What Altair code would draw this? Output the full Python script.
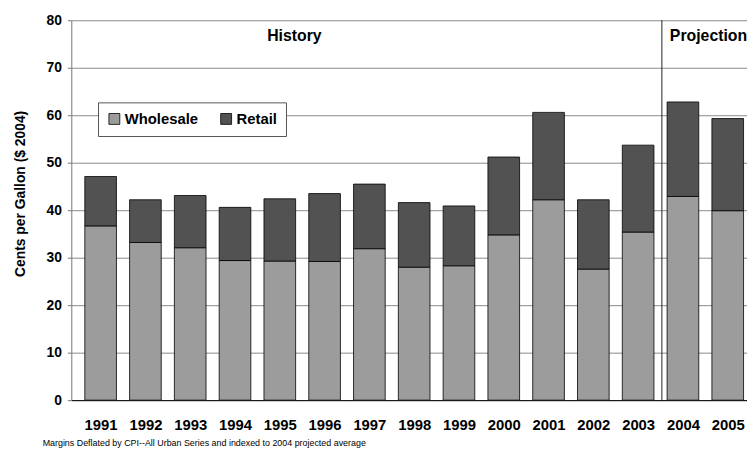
import altair as alt
import pandas as pd

# ---- data ----
years = [1991, 1992, 1993, 1994, 1995, 1996, 1997, 1998, 1999, 2000, 2001, 2002, 2003, 2004, 2005]
wholesale = [36.7, 33.2, 32.1, 29.4, 29.3, 29.2, 31.9, 28.0, 28.3, 34.8, 42.2, 27.6, 35.4, 42.9, 39.9]
retail = [10.4, 9.0, 11.0, 11.2, 13.1, 14.3, 13.6, 13.6, 12.6, 16.4, 18.4, 14.6, 18.3, 19.9, 19.4]
series = ["Wholesale", "Retail"]
colors = ["#9c9c9c", "#525252"]
y_ticks = [0, 10, 20, 30, 40, 50, 60, 70, 80]
history_projection_boundary = [2003.53]
y_title = "Cents per Gallon ($ 2004)"
footnote = "Margins Deflated by CPI--All Urban Series and indexed to 2004 projected average"

rows = []
for i, yr in enumerate(years):
    rows.append({"year": yr, "series": "Wholesale", "cents": wholesale[i], "ord": 0})
    rows.append({"year": yr, "series": "Retail", "cents": retail[i], "ord": 1})
df = pd.DataFrame(rows)

FONT = "Liberation Sans"

bars = alt.Chart(df).mark_bar(size=32, stroke="black", strokeWidth=0.8, clip=True).encode(
    x=alt.X(
        "year:Q",
        scale=alt.Scale(domain=[1990.456, 2005.32], nice=False, zero=False),
        axis=alt.Axis(
            values=years, format="d", title=None, grid=False, ticks=False,
            labelFont=FONT, labelFontSize=15, labelFontWeight="bold", labelColor="black",
            labelPadding=18, labelFlush=False, labelOverlap=False,
            domainColor="black", domainWidth=1,
        ),
    ),
    y=alt.Y(
        "cents:Q", stack="zero",
        scale=alt.Scale(domain=[0, 80], nice=False),
        axis=alt.Axis(
            values=y_ticks, title=y_title, grid=True, gridColor="#8a8a8a", gridWidth=1,
            ticks=True, tickSize=4, tickColor="#777777",
            domainColor="#777777",
            labelFont=FONT, labelFontSize=14, labelFontWeight="bold", labelColor="black",
            labelPadding=6,
            titleFont=FONT, titleFontSize=14, titleFontWeight="bold", titleColor="black",
            titlePadding=19, titleY=175,
        ),
    ),
    color=alt.Color(
        "series:N",
        scale=alt.Scale(domain=series, range=colors),
        legend=alt.Legend(
            title=None, orient="none", legendX=27, legendY=83, direction="horizontal",
            columns=2, symbolType="square", symbolSize=121, symbolStrokeColor="black",
            symbolStrokeWidth=0.8, symbolOpacity=1,
            labelFont=FONT, labelFontSize=15, labelFontWeight="bold", labelColor="black",
            labelOffset=3, columnPadding=20, padding=9,
            strokeColor="#555555", fillColor="white",
        ),
    ),
    order=alt.Order("ord:Q", sort="ascending"),
)

divider = alt.Chart(pd.DataFrame({"boundary": history_projection_boundary})).mark_rule(
    color="#222222", strokeWidth=1
).encode(x="boundary:Q")

history = alt.Chart(pd.DataFrame({"t": ["History"]})).mark_text(
    font=FONT, fontSize=16, fontWeight="bold", align="center", baseline="middle", color="black"
).encode(text="t:N", x=alt.value(225.5), y=alt.value(16))

projection = alt.Chart(pd.DataFrame({"t": ["Projection"]})).mark_text(
    font=FONT, fontSize=16, fontWeight="bold", align="left", baseline="middle", color="black"
).encode(text="t:N", x=alt.value(605), y=alt.value(16))

note = alt.Chart(pd.DataFrame({"t": [footnote]})).mark_text(
    font=FONT, fontSize=9, align="left", baseline="middle", color="black"
).encode(text="t:N", x=alt.value(-29), y=alt.value(427))

chart = alt.layer(bars, divider, history, projection, note).properties(
    width=683, height=384,
    padding={"left": 64, "top": 10, "right": 0, "bottom": 49},
    autosize=alt.AutoSizeParams(type="none"),
).configure_view(stroke=None)

chart.save("out.html", embed_options={"renderer": "svg", "actions": False})
